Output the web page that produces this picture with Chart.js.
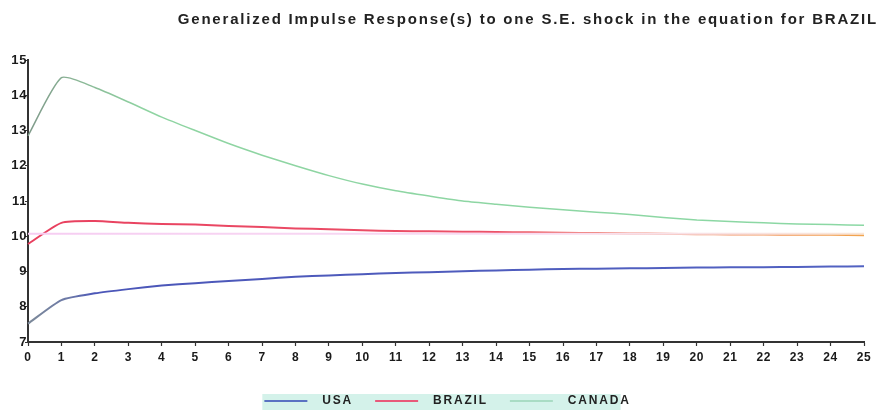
<!DOCTYPE html>
<html>
<head>
<meta charset="utf-8">
<script src="https://cdn.jsdelivr.net/npm/chart.js@4.4.1/dist/chart.umd.min.js"></script>
<style>
    html, body { margin: 0; padding: 0; background: #ffffff; }
    #wrap { width: 883px; height: 410px; }
</style>
</head>
<body>
<div id="wrap"><canvas id="irfChart" width="883" height="410"></canvas></div>
<script>
// データ
const periods = ['0', '1', '2', '3', '4', '5', '6', '7', '8', '9', '10', '11', '12',
    '13', '14', '15', '16', '17', '18', '19', '20', '21', '22', '23', '24', '25'];

const usaValues = [7.52, 8.19, 8.38, 8.50, 8.60, 8.67, 8.73, 8.79, 8.85, 8.89, 8.92, 8.96, 8.98,
    9.01, 9.03, 9.05, 9.07, 9.08, 9.09, 9.10, 9.11, 9.12, 9.12, 9.13, 9.14, 9.15];

const brazilValues = [9.78, 10.38, 10.43, 10.38, 10.35, 10.33, 10.29, 10.26, 10.22, 10.20, 10.17, 10.15, 10.14,
    10.13, 10.12, 10.11, 10.10, 10.09, 10.08, 10.07, 10.06, 10.05, 10.05, 10.04, 10.04, 10.03];

const canadaValues = [12.85, 14.50, 14.22, 13.81, 13.38, 13.00, 12.63, 12.30, 12.00, 11.72, 11.48, 11.29, 11.14,
    11.00, 10.91, 10.82, 10.75, 10.68, 10.62, 10.53, 10.46, 10.42, 10.38, 10.35, 10.33, 10.31];

// 薄いピンクの基準線
const baseValues = [10.07, 10.07, 10.07, 10.07, 10.07, 10.07, 10.07, 10.07, 10.07, 10.07, 10.07, 10.07, 10.07,
    10.07, 10.07, 10.07, 10.07, 10.07, 10.07, 10.07, 10.07, 10.07, 10.07, 10.07, 10.07, 10.07];

const seriesNames = ['USA', 'BRAZIL', 'CANADA'];
const legendColors = ['#5a72c2', '#e85a7a', '#a9dcc4'];

const titleText = 'Generalized Impulse Response(s) to one S.E. shock in the equation for BRAZIL';

// 凡例サンプルの余白
const sampleLead = 17;
const sampleLine = 43;
const sampleTrail = 9;

// 横方向グラデーション
function hGradient(context, stops) {
    const chart = context.chart;
    const area = chart.chartArea;
    if (!area) return stops[0][1];
    const g = chart.ctx.createLinearGradient(area.left, 0, area.right, 0);
    stops.forEach(s => g.addColorStop(s[0], s[1]));
    return g;
}

// 凡例の線サンプル
function makeSample(color) {
    const c = document.createElement('canvas');
    c.width = sampleLead + sampleLine + sampleTrail;
    c.height = 4;
    const x = c.getContext('2d');
    x.strokeStyle = color;
    x.lineWidth = 2;
    x.beginPath();
    x.moveTo(sampleLead, 2);
    x.lineTo(sampleLead + sampleLine, 2);
    x.stroke();
    return c;
}

// 文字間隔と凡例背景
const stylePlugin = {
    id: 'stylePlugin',
    beforeLayout(chart) {
        chart.ctx.letterSpacing = '1.8px';
    },
    beforeDraw(chart) {
        const ctx = chart.ctx;
        ctx.letterSpacing = '1.8px';
        const boxes = chart.legend && chart.legend.legendHitBoxes;
        if (boxes && boxes.length) {
            const first = boxes[0];
            const last = boxes[boxes.length - 1];
            const left = first.left + sampleLead - 2;
            ctx.save();
            ctx.fillStyle = '#d4f2ea';
            ctx.fillRect(left, first.top - 1, last.left + last.width - 10 - left, 17);
            ctx.restore();
        }
    },
    afterDatasetsDraw(chart) {
        chart.ctx.letterSpacing = '0.6px';
    }
};

const ctx = document.getElementById('irfChart');

new Chart(ctx, {
    type: 'line',
    data: {
        labels: periods,
        datasets: [
            {
                label: '',
                data: baseValues,
                borderColor: c => hGradient(c, [[0, '#f6cdf2'], [0.6, '#f8dcf2'], [1, '#f9e6d8']]),
                borderWidth: 2,
                pointRadius: 0,
                tension: 0
            },
            {
                label: seriesNames[0],
                data: usaValues,
                borderColor: c => hGradient(c, [[0, '#7d8a99'], [0.05, '#6b78a8'], [0.08, '#4b56b8'], [1, '#5262c2']]),
                borderWidth: 2,
                pointRadius: 0,
                tension: 0.2
            },
            {
                label: seriesNames[1],
                data: brazilValues,
                borderColor: c => hGradient(c, [[0, '#e8405f'], [0.55, '#ec5068'], [0.72, '#f07f68'], [1, '#f2a54e']]),
                borderWidth: 2,
                pointRadius: 0,
                tension: 0.2
            },
            {
                label: seriesNames[2],
                data: canadaValues,
                borderColor: c => hGradient(c, [[0, '#7f9a8a'], [0.06, '#8ab696'], [0.14, '#8fd4a2'], [1, '#8bd8a4']]),
                borderWidth: 1.5,
                pointRadius: 0,
                tension: 0.2
            }
        ]
    },
    options: {
        responsive: false,
        animation: false,
        layout: {
            padding: { left: 0, right: 5, top: 0, bottom: -7 }
        },
        plugins: {
            title: {
                display: true,
                text: titleText,
                align: 'end',
                color: '#222222',
                font: { family: 'Liberation Sans', size: 15, weight: 'bold', lineHeight: 1.2 },
                padding: { top: 11, bottom: 31 }
            },
            legend: {
                position: 'bottom',
                labels: {
                    usePointStyle: true,
                    pointStyleWidth: sampleLead + sampleLine + sampleTrail,
                    padding: 5,
                    color: '#222222',
                    font: { family: 'Liberation Sans', size: 12, weight: 'bold' },
                    filter: item => item.text !== '',
                    generateLabels: function (chart) {
                        const items = Chart.defaults.plugins.legend.labels.generateLabels(chart);
                        return items.map(item => {
                            const idx = seriesNames.indexOf(item.text);
                            if (idx >= 0) {
                                item.pointStyle = makeSample(legendColors[idx]);
                            }
                            return item;
                        });
                    }
                }
            },
            tooltip: { enabled: false }
        },
        scales: {
            x: {
                grid: {
                    drawOnChartArea: false,
                    color: '#333333',
                    tickLength: 4,
                    tickWidth: 1.2
                },
                border: { color: '#333333', width: 2 },
                ticks: {
                    color: '#1a1a1a',
                    padding: 4,
                    maxRotation: 0,
                    autoSkip: false,
                    z: 1,
                    font: { family: 'Liberation Sans', size: 12, weight: 'bold' }
                },
                afterFit: s => { s.height = 48; }
            },
            y: {
                min: 7,
                max: 15,
                grid: {
                    drawOnChartArea: false,
                    color: '#333333',
                    tickLength: 3,
                    tickWidth: 1.2
                },
                border: { color: '#333333', width: 2 },
                ticks: {
                    stepSize: 1,
                    color: '#1a1a1a',
                    padding: -2,
                    z: 1,
                    font: { family: 'Liberation Sans', size: 13, weight: 'bold' }
                },
                afterFit: s => { s.width = 28; }
            },
            yRight: {
                position: 'right',
                grid: { display: false },
                border: { display: false },
                ticks: { display: false },
                afterFit: s => { s.width = 14; }
            }
        }
    },
    plugins: [stylePlugin]
});
</script>
</body>
</html>
